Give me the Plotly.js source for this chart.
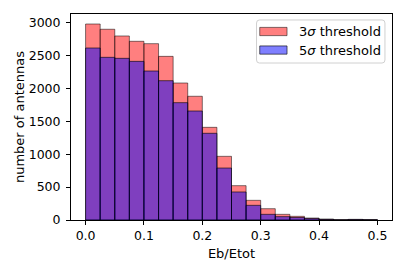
<!DOCTYPE html>
<html>
<head>
<meta charset="utf-8">
<script src="https://cdn.plot.ly/plotly-3.0.1.min.js"></script>
<style>html,body{margin:0;padding:0;background:#fff;}#chart{width:407px;height:271px;}</style>
</head>
<body>
<div id="chart"></div>
<script>
// Histogram bins (left edges) of Eb/Etot, width 0.025
const binStart = [0.000, 0.025, 0.050, 0.075, 0.100, 0.125, 0.150, 0.175, 0.200, 0.225,
                  0.250, 0.275, 0.300, 0.325, 0.350, 0.375, 0.400, 0.425, 0.450, 0.475];
const binWidth = 0.025;
// counts per bin
const counts3sigma = [2980, 2900, 2798, 2717, 2681, 2488, 2083, 1881, 1409, 968,
                      522, 299, 172, 86, 56, 30, 15, 4, 10, 5];
const counts5sigma = [2615, 2473, 2458, 2412, 2265, 2118, 1784, 1657, 1318, 790,
                      426, 223, 86, 51, 38, 22, 8, 2, 6, 3];
const seriesNames = ['3<i>σ</i> threshold', '5<i>σ</i> threshold'];
const xTicks = [0.0, 0.1, 0.2, 0.3, 0.4, 0.5];
const yTicks = [0, 500, 1000, 1500, 2000, 2500, 3000];

const FAM = 'DejaVu Sans, sans-serif';
const fills = ['rgba(255,0,0,0.5)', 'rgba(0,0,255,0.5)'];
const edges = ['rgba(0,0,0,0.5)', 'rgba(0,0,0,0.6)'];

const traces = [
  {type: 'bar', x: binStart, y: counts3sigma, width: binWidth, offset: 0,
   name: seriesNames[0], showlegend: false,
   marker: {color: fills[0], line: {color: edges[0], width: 1}}},
  {type: 'bar', x: binStart, y: counts5sigma, width: binWidth, offset: 0,
   name: seriesNames[1], showlegend: false,
   marker: {color: fills[1], line: {color: edges[1], width: 1}}}
];

// custom matplotlib-style legend (paper coordinates)
const bx0 = 0.578, bx1 = 0.978, by0 = 0.762, by1 = 0.971, rx = 0.009, ry = 0.0146;
const boxPath = `M ${bx0+rx} ${by1} L ${bx1-rx} ${by1} Q ${bx1} ${by1} ${bx1} ${by1-ry} ` +
  `L ${bx1} ${by0+ry} Q ${bx1} ${by0} ${bx1-rx} ${by0} L ${bx0+rx} ${by0} ` +
  `Q ${bx0} ${by0} ${bx0} ${by0+ry} L ${bx0} ${by1-ry} Q ${bx0} ${by1} ${bx0+rx} ${by1} Z`;
const shapes = [
  {type: 'path', xref: 'paper', yref: 'paper', path: boxPath,
   fillcolor: 'rgba(255,255,255,0.8)', line: {color: '#d0d0d0', width: 1}}
];
const annotations = [];
const rowY = [0.915, 0.825];
seriesNames.forEach((nm, i) => {
  shapes.push({type: 'rect', xref: 'paper', yref: 'paper',
    x0: 0.588, x1: 0.673, y0: rowY[i] - 0.020, y1: rowY[i] + 0.020,
    fillcolor: fills[i], line: {color: edges[i], width: 1}});
  annotations.push({xref: 'paper', yref: 'paper', x: 0.704, y: rowY[i],
    xanchor: 'left', yanchor: 'middle', showarrow: false, text: nm,
    font: {family: FAM, size: 13, color: '#000'}});
});

const layout = {
  width: 407, height: 271,
  margin: {l: 71, r: 15, t: 14, b: 51},
  paper_bgcolor: '#fff', plot_bgcolor: '#fff',
  font: {family: FAM, size: 13, color: '#000'},
  barmode: 'overlay',
  bargap: 0,
  showlegend: false,
  shapes: shapes,
  annotations: annotations,
  xaxis: {range: [-0.025, 0.525], tickvals: xTicks, tickformat: '.1f',
          ticks: 'outside', ticklen: 4, tickwidth: 1, tickcolor: '#000',
          showline: true, mirror: true, linecolor: '#000', linewidth: 1,
          showgrid: false, zeroline: false,
          tickfont: {family: FAM, size: 12.5, color: '#000'},
          title: {text: 'Eb/Etot', font: {family: FAM, size: 13, color: '#000'}, standoff: 6}},
  yaxis: {range: [0, 3132], tickvals: yTicks,
          ticks: 'outside', ticklen: 4, tickwidth: 1, tickcolor: '#000',
          ticklabelstandoff: 3,
          showline: true, mirror: true, linecolor: '#000', linewidth: 1,
          showgrid: false, zeroline: false,
          tickfont: {family: FAM, size: 12.5, color: '#000'},
          title: {text: 'number of antennas', font: {family: FAM, size: 13, color: '#000'}}}
};

Plotly.newPlot('chart', traces, layout, {displayModeBar: false, staticPlot: true});
</script>
</body>
</html>
